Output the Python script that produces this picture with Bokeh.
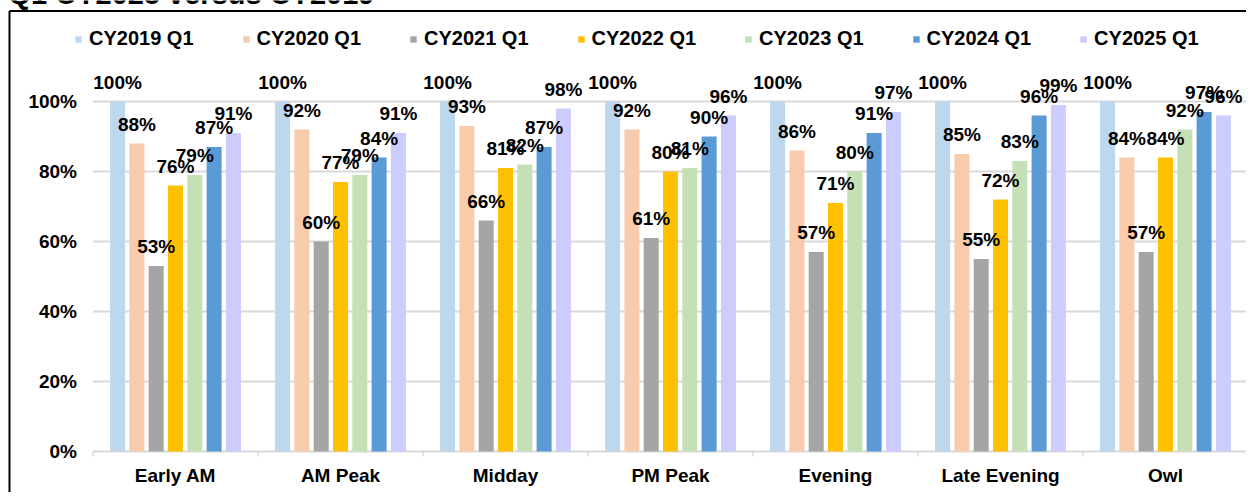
from bokeh.plotting import figure
from bokeh.models import ColumnDataSource, Legend, LegendItem, Range1d
from bokeh.transform import dodge
from bokeh.core.properties import value
from bokeh.embed import file_html
from bokeh.resources import INLINE

title_text = "Q1 CY2025 versus CY2019"
categories = ["Early AM", "AM Peak", "Midday", "PM Peak", "Evening", "Late Evening", "Owl"]
series_names = ["CY2019 Q1", "CY2020 Q1", "CY2021 Q1", "CY2022 Q1", "CY2023 Q1", "CY2024 Q1", "CY2025 Q1"]
cy2019 = [1.00, 1.00, 1.00, 1.00, 1.00, 1.00, 1.00]
cy2020 = [0.88, 0.92, 0.93, 0.92, 0.86, 0.85, 0.84]
cy2021 = [0.53, 0.60, 0.66, 0.61, 0.57, 0.55, 0.57]
cy2022 = [0.76, 0.77, 0.81, 0.80, 0.71, 0.72, 0.84]
cy2023 = [0.79, 0.79, 0.82, 0.81, 0.80, 0.83, 0.92]
cy2024 = [0.87, 0.84, 0.87, 0.90, 0.91, 0.96, 0.97]
cy2025 = [0.91, 0.91, 0.98, 0.96, 0.97, 0.99, 0.96]
colors = ["#BDD7EE", "#F8CBAD", "#A5A5A5", "#FFC000", "#C5E0B4", "#5B9BD5", "#CCCCFF"]
y_ticks = [0, 0.2, 0.4, 0.6, 0.8, 1.0]
y_tick_labels = ["0%", "20%", "40%", "60%", "80%", "100%"]

# layout (pixels)
W, H = 1246, 492
X0, CATW = 92.5, 165.0      # left edge of plot area, width of a category
Y0, YSC = 451.0, 350.0      # pixel row of 0 %, pixels per 100 %

FONT = "Liberation Sans"

def px_x(px):
    return (px - X0) / CATW

def px_y(py):
    return (Y0 - py) / YSC

all_series = [cy2019, cy2020, cy2021, cy2022, cy2023, cy2024, cy2025]
xc = [i + 0.5 for i in range(len(categories))]
data = {"cat": categories, "xc": xc}
for i, s in enumerate(all_series):
    data[f"s{i}"] = s
    data[f"l{i}"] = [f"{round(v*100):d}%" for v in s]
source = ColumnDataSource(data)

p = figure(x_range=Range1d(px_x(0), px_x(W)), y_range=Range1d(px_y(H), px_y(0)),
           width=W, height=H, output_backend="svg", toolbar_location=None, title=None,
           x_axis_type=None, y_axis_type=None, min_border=0)
p.outline_line_color = None
p.grid.visible = False

# chart border (top and left visible)
p.segment(x0=[px_x(9), px_x(9)], x1=[px_x(9), px_x(W + 50)],
          y0=[px_y(10.5), px_y(10.5)], y1=[px_y(H + 50), px_y(10.5)],
          line_color="black", line_width=2)

# gridlines and axis line
ncat = len(categories)
p.segment(x0=[0]*len(y_ticks), x1=[ncat]*len(y_ticks), y0=y_ticks, y1=y_ticks,
          line_color="#D9D9D9", line_width=2)
p.segment(x0=list(range(ncat+1)), x1=list(range(ncat+1)), y0=[0]*(ncat+1), y1=[-5/YSC]*(ncat+1),
          line_color="#D9D9D9", line_width=1.5)

# y tick labels
p.text(x=[0]*len(y_ticks), y=y_ticks, text=y_tick_labels, x_offset=-16,
       text_align="right", text_baseline="middle",
       text_font=value(FONT), text_font_style="bold", text_font_size="19px", text_color="black")
# x category labels
p.text(x="xc", y=0, text="cat", source=source, y_offset=24,
       text_align="center", text_baseline="middle",
       text_font=value(FONT), text_font_style="bold", text_font_size="19px", text_color="black")

pitch = 0.117
bw = 0.091
items = []
for i in range(7):
    off = (i - 3) * pitch
    r = p.vbar(x=dodge("xc", off), top=f"s{i}", width=bw, source=source,
               fill_color=colors[i], line_color=None)
    items.append(LegendItem(label=series_names[i], renderers=[r]))
for i in range(7):
    off = (i - 3) * pitch
    p.text(x=dodge("xc", off), y=f"s{i}", text=f"l{i}", source=source,
           text_align="center", text_baseline="bottom", y_offset=-9,
           text_font=value(FONT), text_font_style="bold", text_font_size="19px", text_color="black")

# clipped title at the very top (only its lower edge shows)
p.text(x=[px_x(8)], y=[px_y(9.5)], text=[title_text], text_align="left",
       text_baseline="bottom", text_font=value(FONT), text_font_style="bold",
       text_font_size="29px", text_color="black")

legend = Legend(items=items, orientation="horizontal", location=(74, 442),
                glyph_width=8, glyph_height=8, label_standoff=7, spacing=48,
                padding=0, margin=0, border_line_color=None, background_fill_alpha=0,
                label_text_font=FONT, label_text_font_style="bold", label_text_font_size="20px",
                label_height=22, label_text_color="black")
p.add_layout(legend)

open("out.html", "w").write(file_html(p, INLINE))
